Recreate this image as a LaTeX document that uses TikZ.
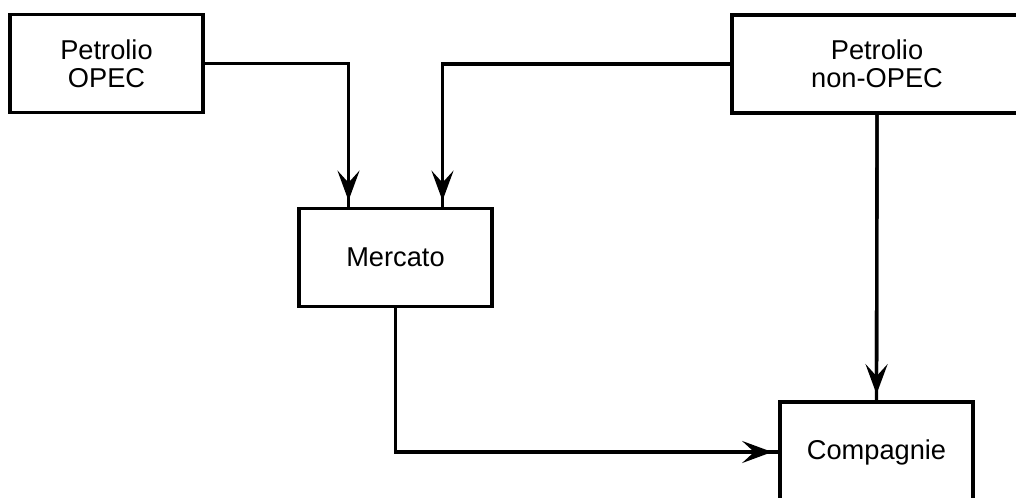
\documentclass[tikz,border=0pt]{standalone}
\usepackage{fontspec}
\setmainfont{Liberation Sans}
\usepackage{tikz}
\usetikzlibrary{arrows.meta, positioning, calc}
\tikzset{
  box/.style={
    rectangle, draw=black, line width=2.1pt,
    minimum width=38.6mm, minimum height=19.6mm,
    align=center, font=\fontsize{15.5}{16}\selectfont,
  },
  conn/.style={
    line width=1.9pt, color=black,
    postaction={draw, -{Stealth[length=6mm, width=4.4mm, inset=2.4mm]}, shorten >=1.2mm},
  },
}
\begin{document}
\begin{tikzpicture}[x=0.2mm, y=-0.2mm]
  \useasboundingbox (0,0) rectangle (1016,497);

  \node[box] (opec) at (106.5,63.5) {Petrolio\\OPEC};
  \node[box, minimum width=58mm] (nonopec) at (877,64) {Petrolio\\non-OPEC};
  \node[box] (mercato) at (395.5,257.5) {Mercato};
  \node[box, minimum height=20mm] (compagnie) at (876.5,452) {Compagnie};

  \draw[conn] (opec.east) -| ([xshift=-9.4mm]mercato.north);
  \draw[conn] (nonopec.west) -| ([xshift=9.4mm]mercato.north);
  \draw[conn] (nonopec.south) -- (compagnie.north);
  \draw[conn] (mercato.south) |- (compagnie.west);

\end{tikzpicture}
\end{document}
